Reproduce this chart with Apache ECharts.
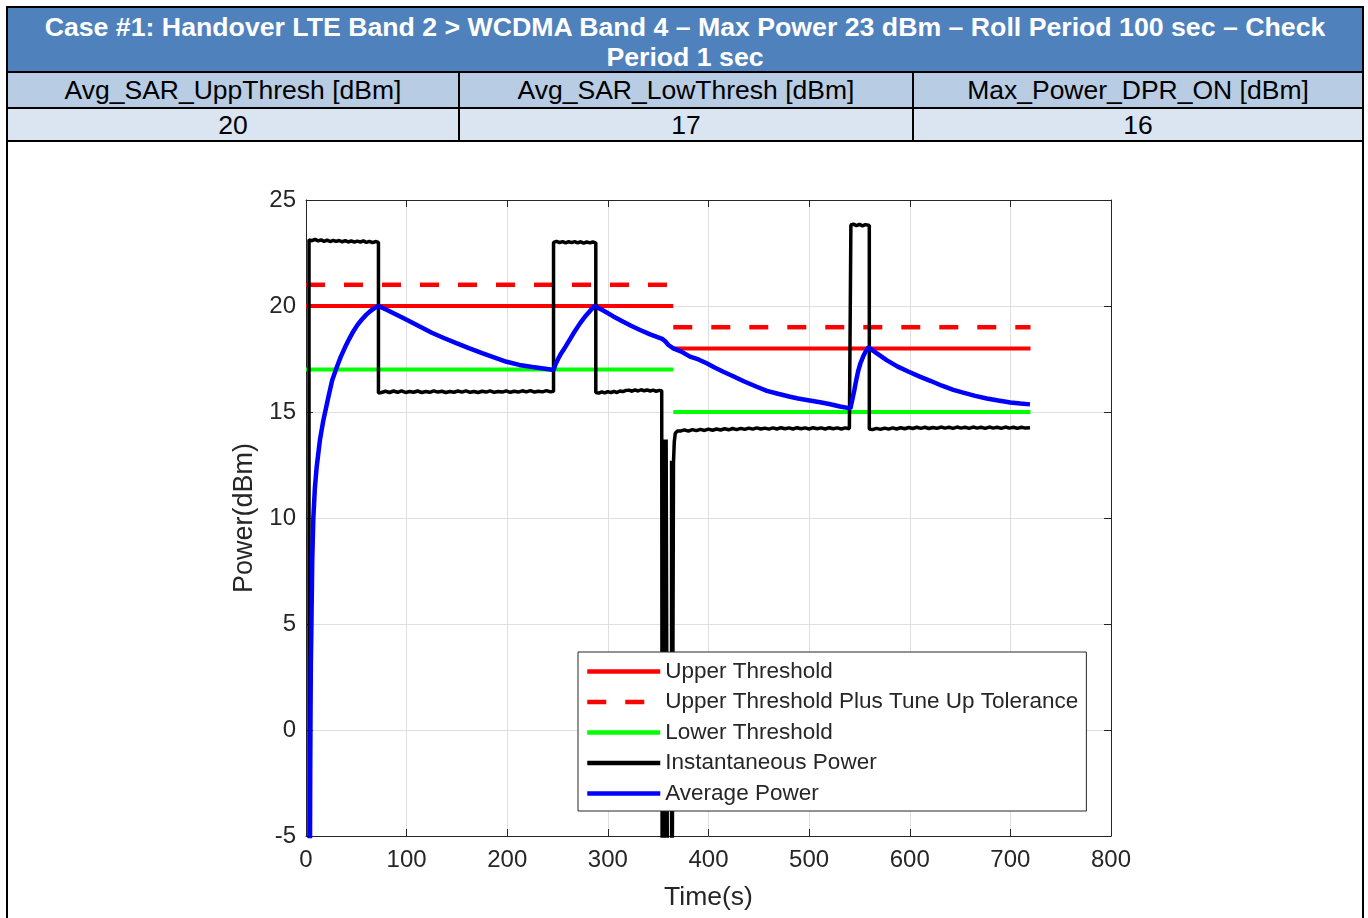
<!DOCTYPE html>
<html><head><meta charset="utf-8">
<script src="https://cdn.jsdelivr.net/npm/echarts@6/dist/echarts.min.js"></script>
<style>
html,body{margin:0;padding:0;background:#fff;width:1368px;height:918px;overflow:hidden;font-family:'Liberation Sans',Arial,sans-serif}
#chart{position:absolute;left:0;top:0;width:1368px;height:918px}
#frame{position:absolute;left:6px;top:6px;width:1354px;height:930px;border:2px solid #000;box-sizing:content-box;pointer-events:none}
#title{position:absolute;left:8px;top:8px;width:1354px;height:65px;background:#4F81BD;color:#fff;font-weight:bold;font-size:26.7px;line-height:30px;text-align:center;box-sizing:border-box;padding-top:4px;border-bottom:2px solid #000;white-space:nowrap}
.row{position:absolute;left:8px;width:1354px;display:flex;border-bottom:2px solid #000;box-sizing:border-box}
.row div{flex:none;text-align:center;font-size:26.5px;color:#000;box-sizing:border-box;white-space:nowrap}
#hdrRow{top:73px;height:36px;background:#B8CCE4}
#valRow{top:109px;height:33px;background:#DBE5F1}
</style></head>
<body>
<div id="chart"></div>
<div id="title"></div>
<div id="hdrRow" class="row"></div>
<div id="valRow" class="row"></div>
<div id="frame"></div>
<script>
// ---- header table content ----
const titleLines = ['Case #1: Handover LTE Band 2 > WCDMA Band 4 \u2013 Max Power 23 dBm \u2013 Roll Period 100 sec \u2013 Check', 'Period 1 sec'];
const headerLabels = ['Avg_SAR_UppThresh [dBm]', 'Avg_SAR_LowThresh [dBm]', 'Max_Power_DPR_ON [dBm]'];
const headerValues = ['20', '17', '16'];

// ---- axes ----
const xTicks = [0, 100, 200, 300, 400, 500, 600, 700, 800];
const yTicks = [-5, 0, 5, 10, 15, 20, 25];

// ---- thresholds (time, dBm) ----
const upperThreshold1 = [[0, 20], [365, 20]];
const upperThreshold2 = [[365, 18], [720, 18]];
const upperTol1 = [[0, 21], [365, 21]];
const upperTol2 = [[365, 19], [720, 19]];
const lowerThreshold1 = [[0, 17], [365, 17]];
const lowerThreshold2 = [[365, 15], [720, 15]];

// ---- instantaneous power (time, dBm) ----
const instantaneousPower = [
 [3,-10],[3,23.12],[6,23.08],[9,23.14],[12,23.07],[15,23.12],[18,23.05],[21,23.11],[24,23.04],[27,23.1],[30,23.05],[33,23.09],[36,23.03],[39,23.08],[42,23.02],[45,23.07],[48,23.01],[51,23.06],[54,23.02],[57,23.07],[60,23.0],[63,23.05],[66,22.99],[69,23.04],[72,23.0],
 [72,15.9],[75,15.92],[79,15.98],[83,15.92],[87,15.99],[91,15.93],[95,16.0],[99,15.92],[103,15.97],[107,15.93],[111,15.99],[115,15.92],[119,15.97],[123,15.93],[127,16.0],[131,15.94],[135,15.98],[139,15.92],[143,15.97],[147,15.93],[151,15.99],[155,15.94],[159,16.0],[163,15.93],[167,15.97],[171,15.92],[175,15.98],[179,15.94],[183,16.0],[187,15.93],[191,15.97],[195,15.94],[199,16.0],[203,15.93],[207,15.98],[211,15.94],[215,16.0],[219,15.95],[223,16.01],[227,15.94],[231,15.98],[235,15.95],[239,16.01],[243,15.95],[246,15.98],
 [246,23.0],[249,23.05],[252,22.99],[255,23.04],[258,22.98],[261,23.03],[264,22.99],[267,23.04],[270,22.98],[273,23.03],[276,22.97],[279,23.02],[282,22.98],[285,23.02],[288,22.98],
 [288,15.92],[291,15.89],[294,15.95],[297,15.9],[300,15.96],[303,15.91],[306,15.97],[309,15.92],[312,15.99],[315,15.96],[318,16.02],[321,16.03],[324,15.98],[327,16.04],[330,15.99],[333,16.05],[336,16.0],[339,16.04],[342,15.99],[345,16.03],[348,15.98],[351,16.02],[353.5,16.0],
 [354,-10],[355,-10],[355.3,13.7],[356.3,13.7],[356.6,-10],[357.6,-10],[357.9,13.7],[359.3,13.7],[359.3,-10],
 [363.3,-10],[363.3,12.7],[363.8,-10],[365,-10],[365.2,12.6],[366,13.6],[367,14.0],[369,14.1],
 [372,14.1],[376,14.16],[380,14.1],[384,14.17],[388,14.12],[392,14.18],[396,14.13],[400,14.19],[404,14.14],[408,14.2],[412,14.15],[416,14.21],[420,14.16],[424,14.22],[428,14.17],[432,14.23],[436,14.18],[440,14.24],[444,14.19],[448,14.25],[452,14.2],[456,14.24],[460,14.19],[464,14.25],[468,14.2],[472,14.26],[476,14.21],[480,14.25],[484,14.2],[488,14.26],[492,14.21],[496,14.25],[500,14.2],[504,14.26],[508,14.21],[512,14.25],[516,14.2],[520,14.26],[524,14.21],[528,14.25],[532,14.2],[536,14.25],[540,14.21],[541.5,14.23],
 [541.5,23.82],[544,23.86],[547,23.79],[550,23.85],[553,23.78],[556,23.84],[559.8,23.8],
 [559.8,14.2],[563,14.17],[567,14.23],[571,14.18],[575,14.24],[579,14.19],[583,14.25],[587,14.2],[591,14.26],[595,14.21],[599,14.27],[603,14.22],[607,14.28],[611,14.23],[615,14.28],[619,14.22],[623,14.27],[627,14.23],[631,14.29],[635,14.24],[639,14.28],[643,14.23],[647,14.29],[651,14.24],[655,14.28],[659,14.23],[663,14.29],[667,14.24],[671,14.28],[675,14.23],[679,14.29],[683,14.24],[687,14.28],[691,14.23],[695,14.29],[699,14.24],[703,14.28],[707,14.23],[711,14.28],[715,14.24],[719.5,14.26]
];

// ---- average power (time, dBm) ----
const averagePower = [
 [3.9,-6],[4.0,-5],[4.2,-2],[4.4,0],[4.8,3],[5.4,5],[6.2,8],[7.3,10],[8.8,11.4],[10.6,12.4],[13.9,13.7],[17.2,14.6],[22.2,15.7],[26,16.5],[30.5,17.1],[34.5,17.6],[38.8,18.05],[43,18.45],[47,18.8],[51,19.1],[55.3,19.35],[59.5,19.57],[63.6,19.75],[68,19.9],[72,20.0],
 [80,19.82],[90,19.59],[100,19.35],[112.5,19.04],[125,18.74],[137.5,18.48],[150,18.24],[162.5,18.0],[175,17.78],[187.5,17.57],[199.4,17.37],[212,17.22],[225,17.12],[236,17.05],[246,16.98],
 [248,17.25],[250.5,17.5],[253,17.72],[255.8,17.92],[260,18.25],[265.7,18.7],[272.3,19.18],[277,19.48],[282,19.75],[286.5,20.0],
 [295,19.8],[305,19.52],[315.3,19.26],[323,19.07],[332,18.87],[342,18.66],[350,18.52],[354,18.45],[357,18.34],[360.2,18.16],[365,18.0],
 [373,17.85],[381.6,17.61],[390,17.48],[398.2,17.3],[406,17.1],[414.7,16.9],[424,16.7],[435,16.45],[447.9,16.19],[458,16.0],[469,15.86],[481,15.72],[489,15.64],[497.6,15.57],[510.8,15.46],[520,15.38],[530.7,15.26],[541,15.17],
 [543,15.6],[545,16.05],[547,16.55],[549,16.98],[551,17.3],[554,17.65],[556.5,17.88],[559,18.05],
 [567,17.78],[577,17.45],[588,17.14],[599,16.9],[610,16.67],[621,16.46],[632,16.24],[643.3,16.04],[654,15.9],[665,15.76],[676.5,15.64],[688,15.54],[700,15.45],[710,15.4],[719.5,15.36]
];

document.getElementById('title').innerHTML = titleLines.map(function(s){return s.replace(/&/g,'&amp;').replace(/</g,'&lt;').replace(/>/g,'&gt;');}).join('<br>');
const colW = [452, 454, 448];
function fillRow(id, arr){
  const el = document.getElementById(id);
  arr.forEach(function(t, i){
    const d = document.createElement('div');
    d.textContent = t;
    d.style.width = colW[i] + 'px';
    d.style.lineHeight = (id === 'hdrRow' ? 35 : 32) + 'px';
    if (i < arr.length - 1) d.style.borderRight = '2px solid #000';
    el.appendChild(d);
  });
}
fillRow('hdrRow', headerLabels);
fillRow('valRow', headerValues);

const axisColor = '#262626';
const fontFam = "'Liberation Sans', Arial, sans-serif";
const chart = echarts.init(document.getElementById('chart'), null, {renderer: 'canvas'});

function lineSeries(name, data, color, width, type, z){
  return {
    name: name, type: 'line', data: data, showSymbol: false, symbol: 'none',
    xAxisIndex: 0, yAxisIndex: 0, animation: false, clip: true, z: z,
    lineStyle: {color: color, width: width, type: type || 'solid', cap: 'butt'},
    itemStyle: {color: color},
    emphasis: {disabled: true}
  };
}

const gridBox = {left: 306, top: 200, width: 805, height: 636};

chart.setOption({
  animation: false,
  backgroundColor: 'transparent',
  textStyle: {fontFamily: fontFam},
  grid: Object.assign({containLabel: false}, gridBox),
  xAxis: [{
    type: 'value', min: xTicks[0], max: xTicks[xTicks.length-1], interval: xTicks[1]-xTicks[0],
    name: 'Time(s)', nameLocation: 'middle', nameGap: 48,
    nameTextStyle: {fontSize: 26.5, color: axisColor, fontFamily: fontFam},
    axisLine: {show: true, onZero: false, lineStyle: {color: axisColor, width: 1}},
    axisTick: {show: true, inside: true, length: 7, lineStyle: {color: axisColor}},
    axisLabel: {fontSize: 24, color: axisColor, margin: 12, fontFamily: fontFam},
    splitLine: {show: true, lineStyle: {color: '#dfdfdf', width: 1}}
  }, {
    type: 'value', position: 'top', min: xTicks[0], max: xTicks[xTicks.length-1], interval: xTicks[1]-xTicks[0],
    axisLine: {show: true, onZero: false, lineStyle: {color: axisColor, width: 1}},
    axisTick: {show: true, inside: true, length: 7, lineStyle: {color: axisColor}},
    axisLabel: {show: false}, splitLine: {show: false}
  }],
  yAxis: [{
    type: 'value', min: yTicks[0], max: yTicks[yTicks.length-1], interval: yTicks[1]-yTicks[0],
    name: 'Power(dBm)', nameLocation: 'middle', nameGap: 46, nameRotate: 90,
    nameTextStyle: {fontSize: 27, color: axisColor, fontFamily: fontFam},
    axisLine: {show: true, onZero: false, lineStyle: {color: axisColor, width: 1}},
    axisTick: {show: true, inside: true, length: 7, lineStyle: {color: axisColor}},
    axisLabel: {fontSize: 24, color: axisColor, margin: 10, fontFamily: fontFam},
    splitLine: {show: true, lineStyle: {color: '#dfdfdf', width: 1}}
  }, {
    type: 'value', position: 'right', min: yTicks[0], max: yTicks[yTicks.length-1], interval: yTicks[1]-yTicks[0],
    axisLine: {show: true, onZero: false, lineStyle: {color: axisColor, width: 1}},
    axisTick: {show: true, inside: true, length: 7, lineStyle: {color: axisColor}},
    axisLabel: {show: false}, splitLine: {show: false}
  }],
  legend: {
    orient: 'vertical', left: 578, top: 652,
    backgroundColor: '#fff', borderColor: axisColor, borderWidth: 1, borderRadius: 0,
    padding: [8, 8, 6, 7], itemWidth: 73, itemHeight: 14, itemGap: 7.5,
    selectedMode: false,
    itemStyle: {opacity: 0},
    lineStyle: {width: 4.5},
    textStyle: {fontSize: 22.5, lineHeight: 22, color: axisColor, fontFamily: fontFam},
    data: ['Upper Threshold', 'Upper Threshold Plus Tune Up Tolerance', 'Lower Threshold', 'Instantaneous Power', 'Average Power']
  },
  series: [
    lineSeries('Upper Threshold', upperThreshold1, '#ff0000', 4, 'solid', 2),
    lineSeries('Upper Threshold', upperThreshold2, '#ff0000', 4, 'solid', 2),
    lineSeries('Upper Threshold Plus Tune Up Tolerance', upperTol1, '#ff0000', 4.5, [19, 19], 2),
    lineSeries('Upper Threshold Plus Tune Up Tolerance', upperTol2, '#ff0000', 4.5, [19, 19], 2),
    lineSeries('Lower Threshold', lowerThreshold1, '#00ff00', 4, 'solid', 2),
    lineSeries('Lower Threshold', lowerThreshold2, '#00ff00', 4, 'solid', 2),
    lineSeries('Instantaneous Power', instantaneousPower, '#000000', 3.5, 'solid', 3),
    lineSeries('Average Power', averagePower, '#0000ff', 4.5, 'solid', 4)
  ]
});
</script>
</body></html>
